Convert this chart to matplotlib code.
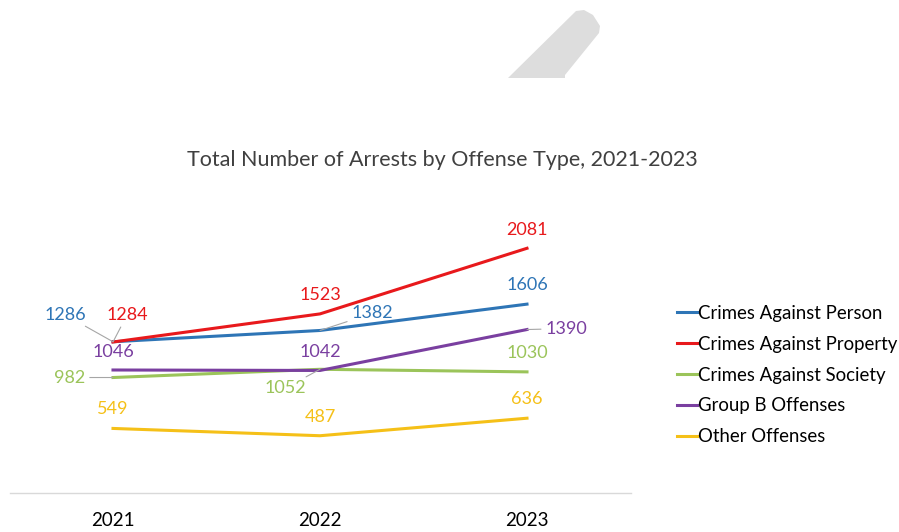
import matplotlib.pyplot as plt
from matplotlib.patches import Polygon

plt.rcParams['font.family'] = ['Lato', 'DejaVu Sans']

years = ['2021', '2022', '2023']
person = [1286, 1382, 1606]
property_ = [1284, 1523, 2081]
society = [982, 1052, 1030]
group_b = [1046, 1042, 1390]
other = [549, 487, 636]

series = [
    ('Crimes Against Person', person, '#2E75B6'),
    ('Crimes Against Property', property_, '#E8191C'),
    ('Crimes Against Society', society, '#9BC45A'),
    ('Group B Offenses', group_b, '#7A3FA0'),
    ('Other Offenses', other, '#F5C018'),
]

# label offsets in pixels (dx, dy) and whether a leader line is drawn
offsets = {
    'Crimes Against Person': [(-48, 27, True), (52, 17, True), (0, 19, False)],
    'Crimes Against Property': [(14, 27, True), (0, 19, False), (0, 18, False)],
    'Crimes Against Society': [(-43, 0, True), (-35, -19, True), (0, 19, False)],
    'Group B Offenses': [(0, 18, False), (0, 18, False), (39, 1, True)],
    'Other Offenses': [(0, 19, False), (0, 19, False), (0, 19, False)],
}

W, H = 899, 532
fig = plt.figure(figsize=(W / 100, H / 100), dpi=100)
ax = fig.add_axes([9.5 / W, (H - 493) / H, 621 / W, 294 / H])

x = list(range(len(years)))
for name, vals, color in series:
    ax.plot(x, vals, color=color, lw=2.2, label=name, solid_joinstyle='round')
    for xi, v, (dx, dy, lead) in zip(x, vals, offsets[name]):
        ax.annotate(str(v), (xi, v), xytext=(dx, dy), textcoords='offset pixels',
                    ha='center', va='center', fontsize=13, color=color,
                    arrowprops=dict(arrowstyle='-', color='#A6A6A6', lw=0.8,
                                    shrinkA=1, shrinkB=0) if lead else None)

ax.set_xlim(-0.5, 2.5)
ax.set_ylim(0, 2500)
ax.set_xticks(x)
ax.set_xticklabels(years, fontsize=13.5)
ax.tick_params(axis='x', length=0, pad=14, colors='#000000')
ax.set_yticks([])
for s in ['top', 'left', 'right']:
    ax.spines[s].set_visible(False)
ax.spines['bottom'].set_color('#D9D9D9')
ax.spines['bottom'].set_linewidth(1)

fig.text(442 / W, 1 - 160 / H, 'Total Number of Arrests by Offense Type, 2021-2023',
         ha='center', va='center', fontsize=15.5, color='#404040')

handles, labels = ax.get_legend_handles_labels()
fig.legend(handles, labels, loc='upper left', bbox_to_anchor=(677 / W, 1 - 305 / H),
           frameon=False, fontsize=13.4, handlelength=1.05, handletextpad=0.08,
           labelspacing=0.74, borderaxespad=0, borderpad=0)

# grey band at the top
band = Polygon([(508, 78), (576, 11), (584, 10), (593, 15), (600, 26), (599, 33),
                (565, 75), (565, 78)],
               closed=True, transform=None, facecolor='#DDDDDD', edgecolor='none')
band.set_xy([(px, H - py) for px, py in band.get_xy()])
fig.patches.append(band)

fig.savefig('out.png', dpi=100)
